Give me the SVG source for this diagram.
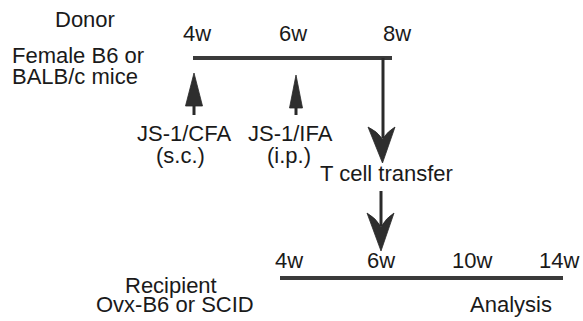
<svg xmlns="http://www.w3.org/2000/svg" width="583" height="321" viewBox="0 0 583 321">
<style>
text{font-family:"Liberation Sans",Arial,sans-serif;font-size:22px;fill:#1a1a1a}
.tl{stroke:#3a3a3a;stroke-width:4;fill:none}
.ln{stroke:#2a2a2a;stroke-width:3;fill:none}
.ah{fill:#2e2e2e;stroke:#2a2a2a;stroke-width:0.8}
</style>
<rect width="583" height="321" fill="#fff"/>
<g id="donor-label">
<text x="55" y="27">Donor</text>
<text x="12" y="63">Female B6 or</text>
<text x="12" y="84">BALB/c mice</text>
</g>
<g id="donor-timeline-labels">
<text x="183" y="41">4w</text>
<text x="279" y="41">6w</text>
<text x="383" y="41">8w</text>
</g>
<g id="cfa">
<text x="137" y="141">JS-1/CFA</text>
<text x="156" y="163">(s.c.)</text>
</g>
<g id="ifa">
<text x="248" y="141">JS-1/IFA</text>
<text x="267" y="163">(i.p.)</text>
</g>
<g id="transfer">
<text x="320" y="181">T cell transfer</text>
</g>
<g id="recipient-label">
<text x="125" y="293">Recipient</text>
<text x="96" y="312">Ovx-B6 or SCID</text>
</g>
<g id="recipient-timeline-labels">
<text x="275" y="268">4w</text>
<text x="367" y="268">6w</text>
<text x="452" y="268">10w</text>
<text x="539" y="268">14w</text>
</g>
<g id="analysis">
<text x="470" y="312">Analysis</text>
</g>
<g id="connectors">
<line class="tl" x1="193" y1="58" x2="392" y2="58"/>
<line class="ln" x1="383" y1="58" x2="383" y2="138"/>
<path class="ah" d="M382.5,163 L368,127 Q377,131 382.5,139 Q388,131 395,127 Z"/>
<line class="tl" x1="280" y1="278" x2="563" y2="278"/>
<line class="ln" x1="381" y1="191" x2="381" y2="226"/>
<path class="ah" d="M381,251 L367,213 Q376,218 381,227 Q386,218 394,213 Z"/>
<line class="ln" x1="194" y1="103" x2="194" y2="115"/>
<path class="ah" d="M194,73 L185.5,106 L202.5,106 Z"/>
<line class="ln" x1="296" y1="105" x2="296" y2="115"/>
<path class="ah" d="M296,75 L289.5,108 L302.5,108 Z"/>
</g>
</svg>
